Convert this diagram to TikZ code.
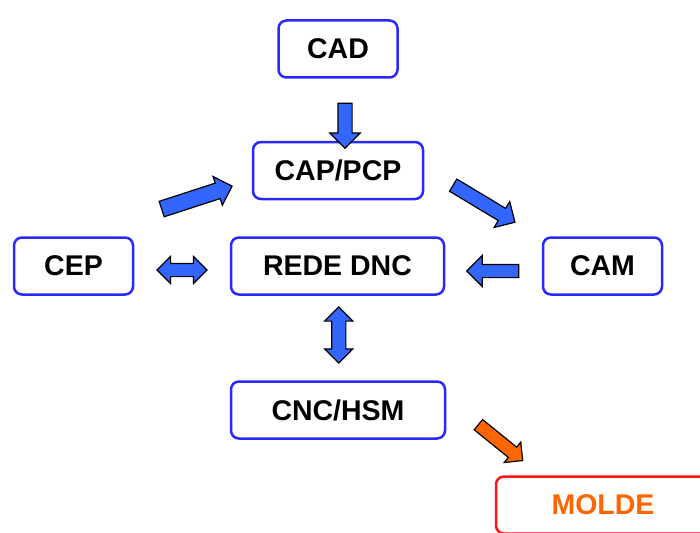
\documentclass[tikz,border=0pt]{standalone}
\usepackage{fontspec}
\setmainfont{Liberation Sans}
\usepackage{tikz}
\usetikzlibrary{positioning}
\usetikzlibrary{shapes.arrows}
\usetikzlibrary{calc}

\definecolor{boxblue}{RGB}{40,40,255}
\definecolor{arrowblue}{RGB}{51,102,255}
\definecolor{moldeorange}{RGB}{255,102,0}
\definecolor{moldered}{RGB}{255,20,20}

\begin{document}
\begin{tikzpicture}[x=1pt,y=-1pt,
  stage/.style={draw=boxblue,line width=2.5pt,rounded corners=8pt,align=center,
    font=\fontsize{28.5}{31}\selectfont\bfseries,minimum height=57pt},
  flow/.style={single arrow,draw=black,line width=1.2pt,fill=arrowblue,
    inner sep=0pt,inner ysep=6.5pt,single arrow head extend=8pt},
  swap/.style={double arrow,draw=black,line width=1.2pt,fill=arrowblue,
    inner sep=0pt,inner ysep=6pt,double arrow head extend=7pt}]
  \path[use as bounding box,clip] (0,0) rectangle (700,532);

  \node at (338,49) [stage,minimum width=119pt] (cad) {CAD};
  \node at (338,170.5) [stage,minimum width=170pt] (cap) {CAP/PCP};
  \node at (73.5,266) [stage,minimum width=119pt] (cep) {CEP};
  \node at (337.5,266) [stage,minimum width=213pt] (rede) {REDE DNC};
  \node at (602.5,266) [stage,minimum width=119pt] (cam) {CAM};
  \node at (338,410) [stage,minimum width=214pt] (cnc) {CNC/HSM};
  \node at (603,505) [stage,minimum width=214pt,draw=moldered,text=moldeorange] (molde) {MOLDE};

  \node at ($(cad.south)!.7!(cap.north)+(7,0)$) [flow,rotate=-90,minimum height=45pt] (cad2cap) {};
  \node at ($(cep.north east)!.5!(cap.west)+(0,-4.5)$) [flow,inner ysep=7.5pt,single arrow head extend=7pt,rotate=18,minimum height=74pt] (cep2cap) {};
  \node at ($(cap.east)!.5!(cam.north west)+(-2,-1.5)$) [flow,rotate=-31,minimum height=72pt] (cap2cam) {};
  \node at ($(cep.east)!.5!(rede.west)+(0,4)$) [swap,minimum height=50pt] (cep2rede) {};
  \node at ($(rede.east)!.5!(cam.west)+(2.5,5)$) [flow,inner ysep=6pt,single arrow head extend=9pt,rotate=180,minimum height=52pt] (cam2rede) {};
  \node at ($(rede.south)!.5!(cnc.north)+(1,-3)$) [swap,inner ysep=6.5pt,rotate=90,minimum height=56pt] (rede2cnc) {};
  \node at ($(cnc.east)!.33!(molde.north)+(0,9)$) [flow,fill=moldeorange,inner ysep=6pt,single arrow head extend=6.5pt,rotate=-39,minimum height=57pt] (cnc2molde) {};
\end{tikzpicture}
\end{document}
